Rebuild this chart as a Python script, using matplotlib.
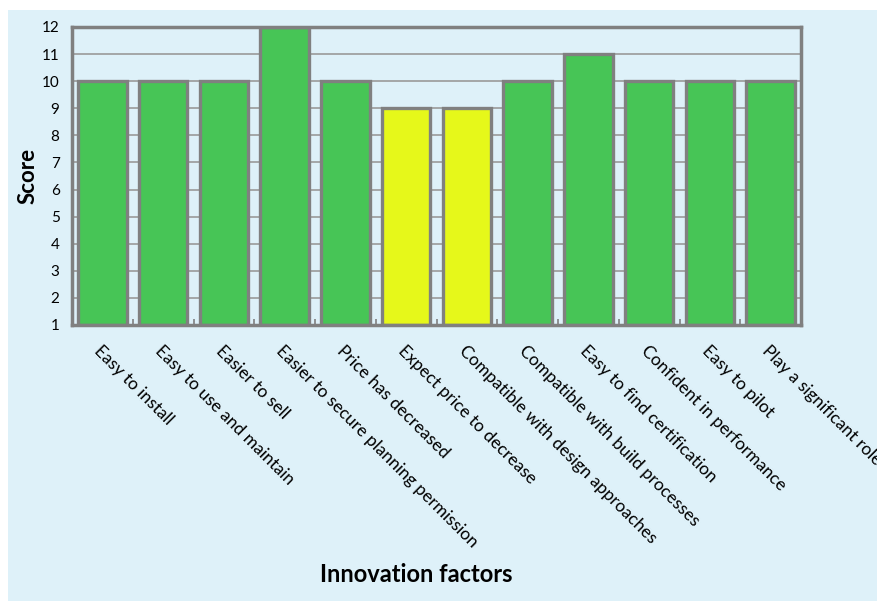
import matplotlib
matplotlib.use("Agg")
import matplotlib.pyplot as plt
from matplotlib.patches import Rectangle

categories = ["Easy to install", "Easy to use and maintain", "Easier to sell",
              "Easier to secure planning permission", "Price has decreased",
              "Expect price to decrease", "Compatible with design approaches",
              "Compatible with build processes", "Easy to find certification",
              "Confident in performance", "Easy to pilot", "Play a significant role"]
scores = [10, 10, 10, 12, 10, 9, 9, 10, 11, 10, 10, 10]
highlight = [False, False, False, False, False, True, True, False, False, False, False, False]
yticks = list(range(1, 13))

GREEN = "#47C556"
YELLOW = "#E6F81A"
EDGE = "#808080"
BG = "#DEF1F9"

plt.rcParams['font.family'] = ['Lato', 'DejaVu Sans']

fig = plt.figure(figsize=(8.77, 6.01), dpi=100)
fig.patch.set_facecolor("white")
fig.patches.append(Rectangle((8/877, 0.0), 1.0, 1 - 10/601, transform=fig.transFigure,
                             facecolor=BG, edgecolor="none", zorder=-10))

ax = fig.add_axes([72/877, 1 - 325/601, (801 - 72)/877, (325 - 27)/601])
ax.set_facecolor(BG)

x = list(range(len(categories)))
colors = [YELLOW if h else GREEN for h in highlight]
ax.bar(x, [s - 1 for s in scores], bottom=1, width=0.8, color=colors,
       edgecolor=EDGE, linewidth=2.4, zorder=3)

ax.set_ylim(1, 12)
ax.set_xlim(-0.5, len(categories) - 0.5)
ax.set_yticks(yticks)
ax.yaxis.grid(True, color="#9a9a9a", linewidth=1.2, zorder=0)
ax.set_axisbelow(True)
for side in ["left", "bottom", "top", "right"]:
    ax.spines[side].set_color(EDGE)
    ax.spines[side].set_linewidth(2.5)
    ax.spines[side].set_zorder(4)

ax.tick_params(axis="y", length=0, labelsize=11, pad=9)
ax.tick_params(axis="x", length=4, width=1.2, color=EDGE, direction="in", labelsize=12.5, pad=13)
ax.set_xticks([i - 0.5 for i in range(1, len(categories))], minor=True)
ax.tick_params(axis="x", which="minor", length=4, width=1.2, color=EDGE, direction="in")
ax.set_xticks(x)
ax.set_xticklabels(categories, rotation=-45, ha="left", va="top", rotation_mode="anchor")
for lab in ax.get_xticklabels():
    lab.set_clip_on(False)

ax.set_ylabel("Score", fontsize=16, fontweight="bold", labelpad=2)
fig.text(416/877, 1 - 574/601, "Innovation factors", fontsize=17, fontweight="bold",
         ha="center", va="center")

fig.savefig("out.png", dpi=100, facecolor=fig.get_facecolor())
